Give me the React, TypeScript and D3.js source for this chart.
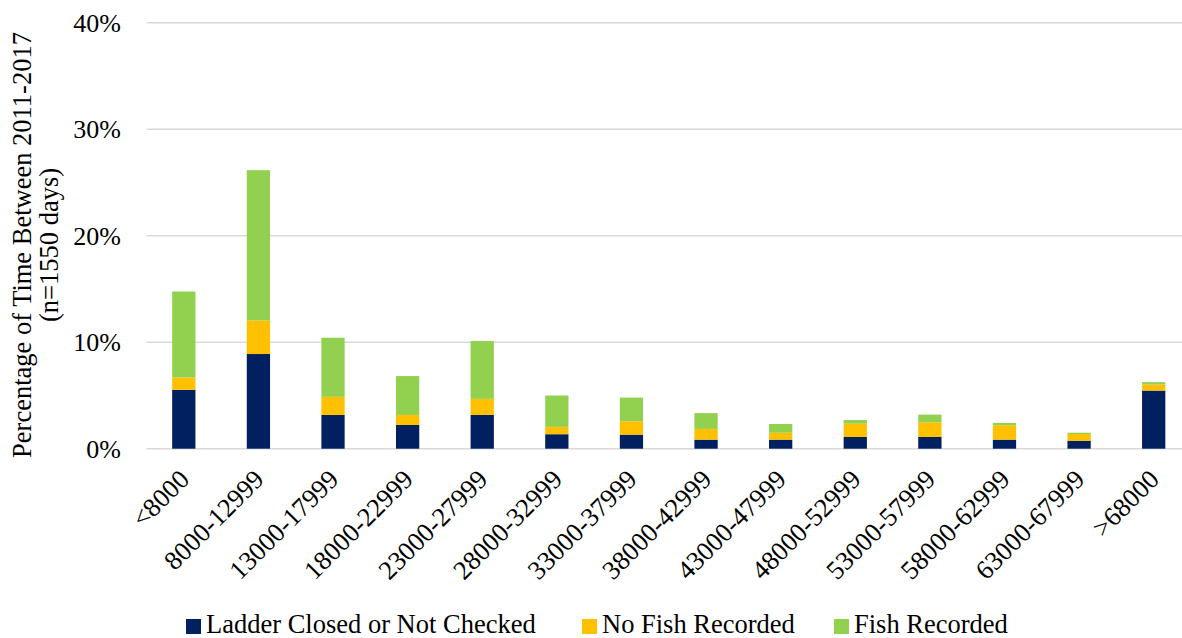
import React from "react";
import * as d3 from "d3";

// Categories (flow ranges) along the x axis
const categories = [
  "<8000",
  "8000-12999",
  "13000-17999",
  "18000-22999",
  "23000-27999",
  "28000-32999",
  "33000-37999",
  "38000-42999",
  "43000-47999",
  "48000-52999",
  "53000-57999",
  "58000-62999",
  "63000-67999",
  ">68000",
];

// Percentage of days in each stacked series
const ladderClosed = [5.53, 8.89, 3.17, 2.23, 3.17, 1.36, 1.32, 0.85, 0.85, 1.1, 1.1, 0.85, 0.75, 5.46];
const noFishRecorded = [1.16, 3.16, 1.7, 0.94, 1.51, 0.69, 1.26, 1.01, 0.65, 1.25, 1.38, 1.35, 0.63, 0.57];
const fishRecorded = [8.07, 14.1, 5.55, 3.65, 5.43, 2.94, 2.22, 1.48, 0.82, 0.34, 0.72, 0.22, 0.12, 0.22];

const seriesNames = ["Ladder Closed or Not Checked", "No Fish Recorded", "Fish Recorded"];
const seriesColors = ["#002060", "#FFC000", "#92D050"];
const yTicks = [0, 10, 20, 30, 40];

const W = 1182;
const H = 638;
const FONT = '"Liberation Serif", "Times New Roman", Times, serif';
const textStyle = { fontFamily: FONT };

export default function App() {
  const x = d3
    .scaleBand<string>()
    .domain(categories)
    .range([146.5, 1191])
    .paddingInner(0.688)
    .paddingOuter(0.344);
  const y = d3.scaleLinear().domain([0, 40]).range([448.7, 22.7]);

  const rows = categories.map((c, i) => ({
    cat: c,
    s0: ladderClosed[i],
    s1: noFishRecorded[i],
    s2: fishRecorded[i],
  }));
  const stack = d3.stack<any>().keys(["s0", "s1", "s2"]);
  const layers = stack(rows);

  const legendX = [186, 582, 834];

  return (
    <svg
      width={W}
      height={H}
      style={{ position: "absolute", left: 0, top: 0, display: "block", background: "#fff" }}
    >
      {/* gridlines */}
      {yTicks.map((t) => (
        <line key={t} x1={146.5} x2={W} y1={y(t)} y2={y(t)} stroke="#d9d9d9" strokeWidth={1.5} />
      ))}
      {/* y tick labels */}
      {yTicks.map((t) => (
        <text key={t} x={121} y={y(t)} dy="0.35em" textAnchor="end" fontSize={26} fill="#000" style={textStyle}>
          {t}%
        </text>
      ))}
      {/* y axis title */}
      <g transform="translate(0,245) rotate(-90)">
        <text x={0} y={31} textAnchor="middle" fontSize={26.5} fill="#000" style={textStyle}>
          Percentage of Time Between 2011-2017
        </text>
        <text x={0} y={58} textAnchor="middle" fontSize={26.5} fill="#000" style={textStyle}>
          (n=1550 days)
        </text>
      </g>
      {/* stacked bars */}
      {layers.map((layer, li) => (
        <g key={li} fill={seriesColors[li]}>
          {layer.map((d, i) => (
            <rect
              key={i}
              x={x(categories[i])!}
              width={x.bandwidth()}
              y={y(d[1])}
              height={y(d[0]) - y(d[1])}
            />
          ))}
        </g>
      ))}
      {/* x labels */}
      {categories.map((c) => {
        const cx = x(c)! + x.bandwidth() / 2;
        return (
          <text
            key={c}
            transform={`translate(${cx + 7},${481}) rotate(-45)`}
            textAnchor="end"
            fontSize={26.5}
            fill="#000"
            style={textStyle}
          >
            {c}
          </text>
        );
      })}
      {/* legend */}
      {seriesNames.map((n, i) => (
        <g key={n}>
          <rect x={legendX[i]} y={619} width={15} height={15} fill={seriesColors[i]} />
          <text x={legendX[i] + 20} y={633} fontSize={26.5} fill="#000" style={textStyle}>
            {n}
          </text>
        </g>
      ))}
    </svg>
  );
}
